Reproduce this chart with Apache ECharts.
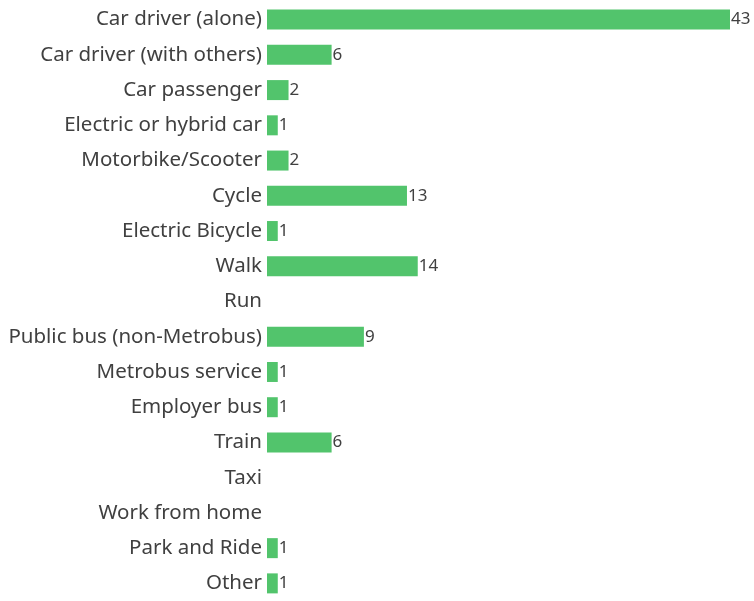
<!DOCTYPE html>
<html><head><meta charset="utf-8">
<script src="https://cdn.jsdelivr.net/npm/echarts@6/dist/echarts.min.js"></script>
<style>html,body{margin:0;padding:0;background:#fff}#c{width:754px;height:601px}</style>
</head><body><div id="c"></div>
<script>
const categories = ["Car driver (alone)","Car driver (with others)","Car passenger","Electric or hybrid car","Motorbike/Scooter","Cycle","Electric Bicycle","Walk","Run","Public bus (non-Metrobus)","Metrobus service","Employer bus","Train","Taxi","Work from home","Park and Ride","Other"];
const values = [43,6,2,1,2,13,1,14,0,9,1,1,6,0,0,1,1];
const chart = echarts.init(document.getElementById('c'), null, {renderer:'canvas'});
chart.setOption({
  animation:false,
  grid:{left:267,right:24,top:2,height:601,containLabel:false},
  xAxis:{type:'value',min:0,max:43,show:false},
  yAxis:{type:'category',inverse:true,data:categories,
    axisLine:{show:false},axisTick:{show:false},
    axisLabel:{fontFamily:'Noto Sans',fontSize:20.5,color:'#404040',margin:5}},
  series:[{type:'bar',data:values,barWidth:20,itemStyle:{color:'#52C46C'},
    label:{show:true,position:'right',distance:1,fontFamily:'Noto Sans',fontSize:17,color:'#404040',
      formatter:p=>p.value>0?p.value:''}}]
});
</script></body></html>
